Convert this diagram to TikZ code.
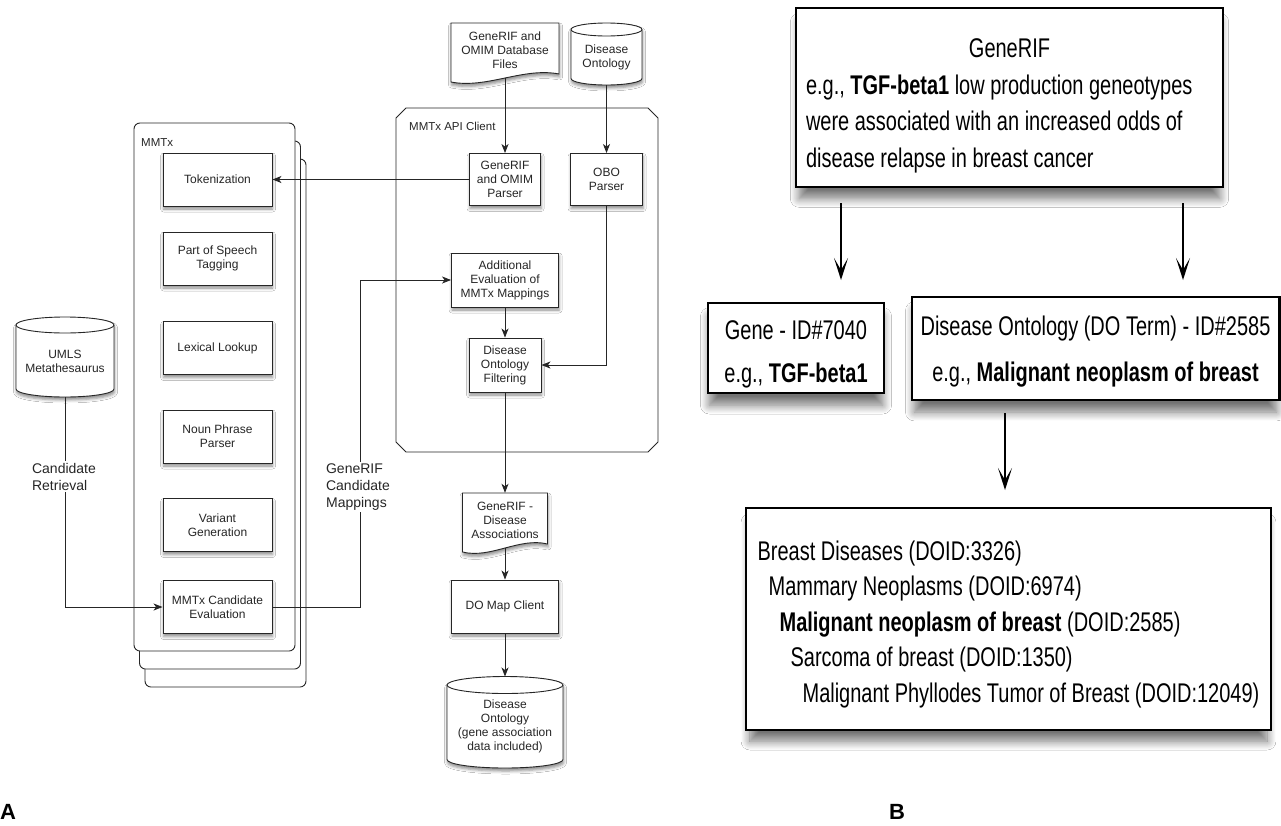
\documentclass[tikz,border=0pt]{standalone}
\usepackage{fontspec}
\setmainfont{Liberation Sans}
\newfontfamily\cond[FakeStretch=0.74]{Liberation Sans}
\usetikzlibrary{arrows.meta,shadows.blur,calc}
\tikzset{
  lw/.style={draw=black!85, line width=0.9pt},
  sshadow/.style={blur shadow={shadow xshift=0.6pt, shadow yshift=-3pt, shadow blur radius=3pt, shadow opacity=45}},
  box/.style={lw, fill=white, minimum width=109pt, minimum height=53pt, align=center, inner sep=2pt,
    font=\fontsize{12}{14}\selectfont, text=black!85, sshadow},
  shp/.style={lw, fill=white, sshadow},
  plain/.style={align=center, inner sep=0pt, font=\fontsize{12}{14}\selectfont, text=black!85},
  arr/.style={lw, -{Stealth[length=9pt,width=7pt,inset=2.5pt]}},
  lbl/.style={fill=white, align=left, inner sep=2pt, font=\fontsize{14}{17}\selectfont, text=black!85},
  cont/.style={lw, fill=white},
  clbl/.style={anchor=west, inner sep=0pt, font=\fontsize{11.5}{13}\selectfont, text=black!85},
  rbox/.style={draw=black, line width=2.2pt, fill=white, inner xsep=9pt,
    blur shadow={shadow xshift=0pt, shadow yshift=-13pt, shadow blur radius=9pt,
      shadow blur steps=12, shadow scale=0.985, shadow opacity=55}},
  rarr/.style={line width=2pt, -{Stealth[length=22pt,width=14pt,inset=12pt]}},
  panel/.style={font=\bfseries\fontsize{22}{22}\selectfont, anchor=base west, inner sep=0pt}
}
% document node: name, cx, cy, w, h, text
\newcommand\docnode[6]{%
  \pgfmathsetmacro\dxl{#2-#4/2}\pgfmathsetmacro\dxr{#2+#4/2}%
  \pgfmathsetmacro\dyt{#3-#5/2}\pgfmathsetmacro\dyb{#3+#5/2}%
  \pgfmathsetmacro\dca{#2+#4/2-0.33*#4}\pgfmathsetmacro\dcb{#2-#4/2+0.33*#4}%
  \path[shp] (\dxl,\dyt) -- (\dxr,\dyt) -- (\dxr,\dyb-4)
    .. controls (\dca,\dyb-11) and (\dcb,\dyb+11) .. (\dxl,\dyb+4) -- cycle;
  \node[plain, minimum width=#4pt, minimum height=#5pt] (#1) at (#2,#3) {#6};}
% cylinder node: name, cx, cy, w, h (body, from top-ellipse centre to bottom), ry, text
\newcommand\cylnode[7]{%
  \pgfmathsetmacro\dxl{#2-#4/2}\pgfmathsetmacro\dxr{#2+#4/2}%
  \pgfmathsetmacro\dyt{#3-#5/2}\pgfmathsetmacro\dyb{#3+#5/2}%
  \pgfmathsetmacro\drx{#4/2}%
  \path[shp] (\dxl,\dyt) -- (\dxl,\dyb-#6)
    arc[start angle=180,end angle=360,x radius=\drx pt,y radius=#6pt]
    -- (\dxr,\dyt) arc[start angle=0,end angle=180,x radius=\drx pt,y radius=#6pt] -- cycle;
  \draw[lw] (\dxl,\dyt) arc[start angle=180,end angle=360,x radius=\drx pt,y radius=#6pt];
  \node[plain, minimum width=#4pt, minimum height=#5pt] (#1) at (#2,#3) {#7};
  \coordinate (#1-top) at (#2,\dyt-#6);}
\begin{document}
\begin{tikzpicture}[x=1pt,y=-1pt]
\useasboundingbox (0,0) rectangle (1281,825);
\fill[white] (0,0) rectangle (1281,825);

% ---------------- Panel A ----------------
% MMTx stacked container
\draw[cont, rounded corners=6pt] (145,159) rectangle (306,687);
\draw[cont, rounded corners=6pt] (139.5,141) rectangle (300.5,669);
\draw[cont, rounded corners=6pt] (134,123) rectangle (295,651);
\node[clbl] (mmtxlbl) at (141,143) {MMTx};

% MMTx API Client container
\draw[cont] (396,118) -- (396,442) -- (406,452) -- (648,452) -- (658,442) -- (658,118) -- (648,108) -- (406,108) -- cycle;
\node[clbl] (apilbl) at (409,126) {MMTx API Client};

% MMTx steps
\node[box] (tok) at (217.5,179.5) {Tokenization};
\node[box] (pos) at (217.5,258.5) {Part of Speech\\Tagging};
\node[box] (lex) at (217.5,348) {Lexical Lookup};
\node[box] (np) at (217.5,436.5) {Noun Phrase\\Parser};
\node[box] (var) at (217.5,525) {Variant\\Generation};
\node[box] (cand) at (217.5,607) {MMTx Candidate\\Evaluation};

% API client steps
\node[box, minimum width=71pt, minimum height=52pt] (gp) at (505,179.5) {GeneRIF\\and OMIM\\Parser};
\node[box, minimum width=72pt, minimum height=52pt] (obo) at (606.5,179.5) {OBO\\Parser};
\node[box, minimum width=107pt, minimum height=54pt] (add) at (505,280) {Additional\\Evaluation of\\MMTx Mappings};
\node[box, minimum width=72pt, minimum height=54pt] (filt) at (505,365) {Disease\\Ontology\\Filtering};
\node[box, minimum width=107pt, minimum height=53pt] (dom) at (505,606.5) {DO Map Client};

% documents
\docnode{gfile}{505}{50.5}{108}{55}{GeneRIF and\\OMIM Database\\Files}
\docnode{assoc}{505}{520.5}{85}{55}{GeneRIF -\\Disease\\Associations}

% cylinders
\cylnode{dofile}{606.5}{57.25}{71}{55.5}{6.5}{Disease\\Ontology}
\cylnode{doout}{505}{726.5}{116}{83}{8.5}{Disease\\Ontology\\(gene association\\data included)}
\cylnode{umls}{65}{361}{98}{72}{8}{UMLS\\Metathesaurus}

% connectors
\coordinate (mapx) at (360,400);
\draw[arr] (gfile.south) -- (gp.north);
\draw[arr] (dofile.south) -- (obo.north);
\draw[arr] (gp.west) -- (tok.east);
\draw[arr] (obo.south) |- (filt.east);
\draw[arr] (add.south) -- (filt.north);
\draw[arr] (filt.south) -- (assoc.north);
\draw[arr] (assoc.south) -- (dom.north);
\draw[arr] (dom.south) -- (doout-top);
\draw[arr] (umls.south) |- (cand.west);
\draw[arr] (cand.east) -- (cand.east -| mapx) -- (mapx |- add.west) -- (add.west);
\node[lbl] (crlbl) at (64,476.5) {Candidate\\Retrieval};
\node[lbl] (gmlbl) at (358,487) {GeneRIF\\Candidate\\Mappings};

\node[panel] (pa) at (0,819) {A};

% ---------------- Panel B ----------------
\node[rbox, minimum width=427pt, minimum height=179pt, text width=407pt, align=flush left,
  font=\cond\fontsize{27}{36.5}\selectfont] (rif) at (1009.5,97.5)
  {\makebox[\linewidth]{\rule{0pt}{36pt}GeneRIF}\\
   e.g., \textbf{TGF-beta1} low production geneotypes\\
   were associated with an increased odds of\\
   disease relapse in breast cancer};
\node[rbox, minimum width=176pt, minimum height=90pt, align=center,
  font=\cond\fontsize{27}{43}\selectfont] (gene) at (796,348)
  {\rule{0pt}{32pt}Gene - ID\#7040\\e.g., \textbf{TGF-beta1}};
\node[rbox, minimum width=363pt, minimum height=103pt, align=center,
  font=\cond\fontsize{27}{46}\selectfont] (dot) at (1095.5,348.5)
  {\rule{0pt}{26pt}Disease Ontology (DO Term) - ID\#2585\\e.g., \textbf{Malignant neoplasm of breast}};
\node[rbox, minimum width=525pt, minimum height=222pt, align=left,
  font=\cond\fontsize{27}{35.5}\selectfont] (tree) at (1008.5,619)
  {\rule{0pt}{30pt}Breast Diseases (DOID:3326)\\
   \hspace*{11pt}Mammary Neoplasms (DOID:6974)\\
   \hspace*{22pt}\textbf{Malignant neoplasm of breast} (DOID:2585)\\
   \hspace*{33pt}Sarcoma of breast (DOID:1350)\\
   \hspace*{45pt}Malignant Phyllodes Tumor of Breast (DOID:12049)};

\coordinate (g1) at (841,203); \coordinate (g2) at (841,280);
\coordinate (d1) at (1183,203); \coordinate (d2) at (1183,280);
\coordinate (t1) at (1005,413); \coordinate (t2) at (1005,490);
\draw[rarr] (g1) -- (g2);
\draw[rarr] (d1) -- (d2);
\draw[rarr] (t1) -- (t2);

\node[panel] (pb) at (889,819) {B};
\end{tikzpicture}
\end{document}
